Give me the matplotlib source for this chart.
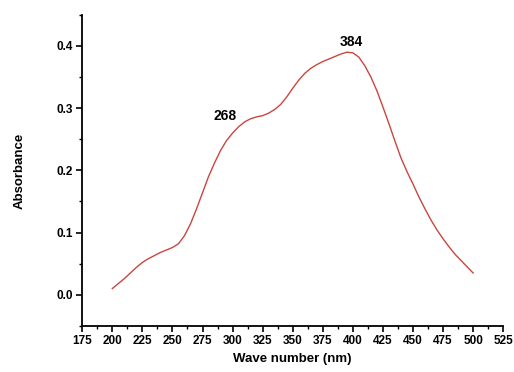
import matplotlib
matplotlib.use("Agg")
import matplotlib.pyplot as plt
from matplotlib.ticker import MultipleLocator

plt.rcParams["font.family"] = ["Liberation Sans", "DejaVu Sans"]

# UV-vis absorbance spectrum
wavelength = [200, 205, 210, 215, 220, 225, 230, 235, 240, 245, 250, 255,
              260, 265, 270, 275, 280, 285, 290, 295, 300, 305, 310, 315,
              320, 325, 330, 335, 340, 345, 350, 355, 360, 365, 370, 375,
              380, 385, 390, 395, 400, 405, 410, 415, 420, 425, 430, 435,
              440, 445, 450, 455, 460, 465, 470, 475, 480, 485, 490, 495, 500]
absorbance = [0.010, 0.018, 0.026, 0.035, 0.044, 0.052, 0.058, 0.063, 0.068,
              0.072, 0.076, 0.082, 0.095, 0.114, 0.138, 0.164, 0.190, 0.212,
              0.232, 0.248, 0.260, 0.270, 0.278, 0.283, 0.286, 0.288, 0.292,
              0.298, 0.306, 0.318, 0.332, 0.345, 0.356, 0.364, 0.370, 0.375,
              0.379, 0.383, 0.387, 0.390, 0.389, 0.382, 0.368, 0.350, 0.328,
              0.302, 0.275, 0.247, 0.220, 0.198, 0.178, 0.157, 0.138, 0.120,
              0.104, 0.090, 0.077, 0.065, 0.055, 0.045, 0.035]

peak_labels = ["268", "384"]
peak_pos = [(294, 0.288), (399, 0.407)]

fig = plt.figure(figsize=(5.14, 3.72), dpi=100)
ax = fig.add_axes([0.16, 0.124, 0.819, 0.836])
ax.plot(wavelength, absorbance, color="#c9463f", lw=1.0)

for txt, (x, y) in zip(peak_labels, peak_pos):
    ax.text(x, y, txt, ha="center", va="center", fontsize=10, fontweight="bold")

ax.set_xlim(175, 525)
ax.set_ylim(-0.05, 0.45)
ax.xaxis.set_major_locator(MultipleLocator(25))
ax.xaxis.set_minor_locator(MultipleLocator(12.5))
ax.yaxis.set_major_locator(MultipleLocator(0.1))
ax.yaxis.set_minor_locator(MultipleLocator(0.05))
ax.yaxis.set_major_formatter(lambda v, p: f"{v:.1f}")

for side in ("top", "right"):
    ax.spines[side].set_visible(False)
for side in ("left", "bottom"):
    ax.spines[side].set_linewidth(1.3)
ax.tick_params(which="major", direction="out", length=4.3, width=1.2,
               labelsize=8.5, pad=2.5)
ax.tick_params(which="minor", direction="out", length=2.5, width=1.0)
for lab in ax.get_xticklabels() + ax.get_yticklabels():
    lab.set_fontweight("bold")

ax.set_xlabel("Wave number (nm)", fontsize=9.5, fontweight="bold")
ax.set_ylabel("Absorbance", fontsize=9.5, fontweight="bold")
ax.xaxis.set_label_coords(0.5, -0.087)
ax.yaxis.set_label_coords(-0.135, 0.5)

fig.savefig("out.png", dpi=100)
plt.close(fig)
